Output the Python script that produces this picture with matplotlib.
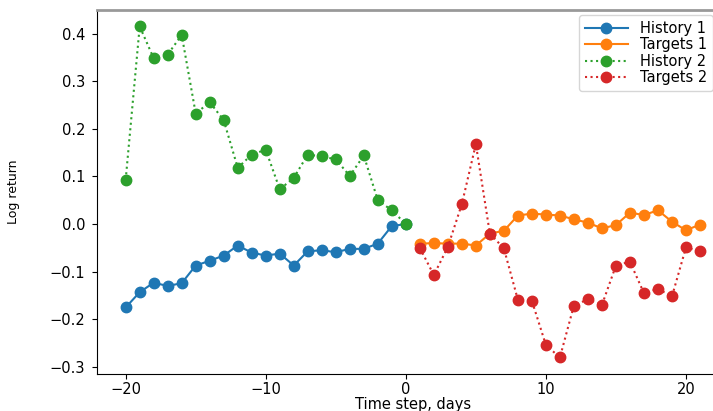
import numpy as np
import matplotlib
matplotlib.use("Agg")
import matplotlib.pyplot as plt

# history window, days -20..0
t_hist = list(range(-20, 1))
history1 = [-0.175, -0.143, -0.123, -0.130, -0.124, -0.087, -0.077, -0.066, -0.045, -0.060,
            -0.066, -0.062, -0.087, -0.057, -0.055, -0.059, -0.052, -0.052, -0.041, -0.004, 0.0]
history2 = [0.093, 0.415, 0.348, 0.356, 0.397, 0.232, 0.256, 0.218, 0.118, 0.146,
            0.156, 0.073, 0.097, 0.146, 0.142, 0.136, 0.101, 0.144, 0.050, 0.029, 0.0]

# target window, days 1..21
t_targ = list(range(1, 22))
targets1 = [-0.041, -0.040, -0.041, -0.041, -0.045, -0.020, -0.014, 0.018, 0.022, 0.020, 0.018,
            0.010, 0.003, -0.009, -0.002, 0.024, 0.019, 0.029, 0.005, -0.013, -0.001]
targets2 = [-0.050, -0.107, -0.048, 0.042, 0.168, -0.020, -0.051, -0.159, -0.161, -0.254, -0.280,
            -0.171, -0.158, -0.170, -0.087, -0.079, -0.145, -0.136, -0.152, -0.049, -0.057]

fig = plt.figure(figsize=(7.13, 4.11), dpi=100)
ax = fig.add_axes([0.136, 0.090, 0.886, 0.886])

ms = 7.5
ax.plot(t_hist, history1, "o-", color="C0", ms=ms, label="History 1")
ax.plot(t_targ, targets1, "o-", color="C1", ms=ms, label="Targets 1")
ax.plot(t_hist, history2, "o:", color="C2", ms=ms, label="History 2")
ax.plot(t_targ, targets2, "o:", color="C3", ms=ms, label="Targets 2")

ax.set_xticks([-20, -10, 0, 10, 20])
ax.set_yticks(np.arange(-0.3, 0.41, 0.1))
ax.tick_params(labelsize=10.5)
ax.tick_params(axis="x", pad=2)
ax.tick_params(axis="y", pad=5)
ax.set_xlabel("Time step, days", fontsize=10.5, labelpad=0)
ax.set_ylabel("Log return", fontsize=9, family=["Liberation Sans Narrow", "DejaVu Sans"])
ax.yaxis.set_label_coords(-0.122, 0.5)

ax.spines["top"].set_color("#999999")
ax.spines["top"].set_linewidth(2)

ax.legend(loc="upper right", fontsize=10.5, labelspacing=0.1, handlelength=3,
          borderaxespad=0, bbox_to_anchor=(1.0, 0.963), bbox_transform=fig.transFigure)

fig.savefig("out.png", dpi=100)
